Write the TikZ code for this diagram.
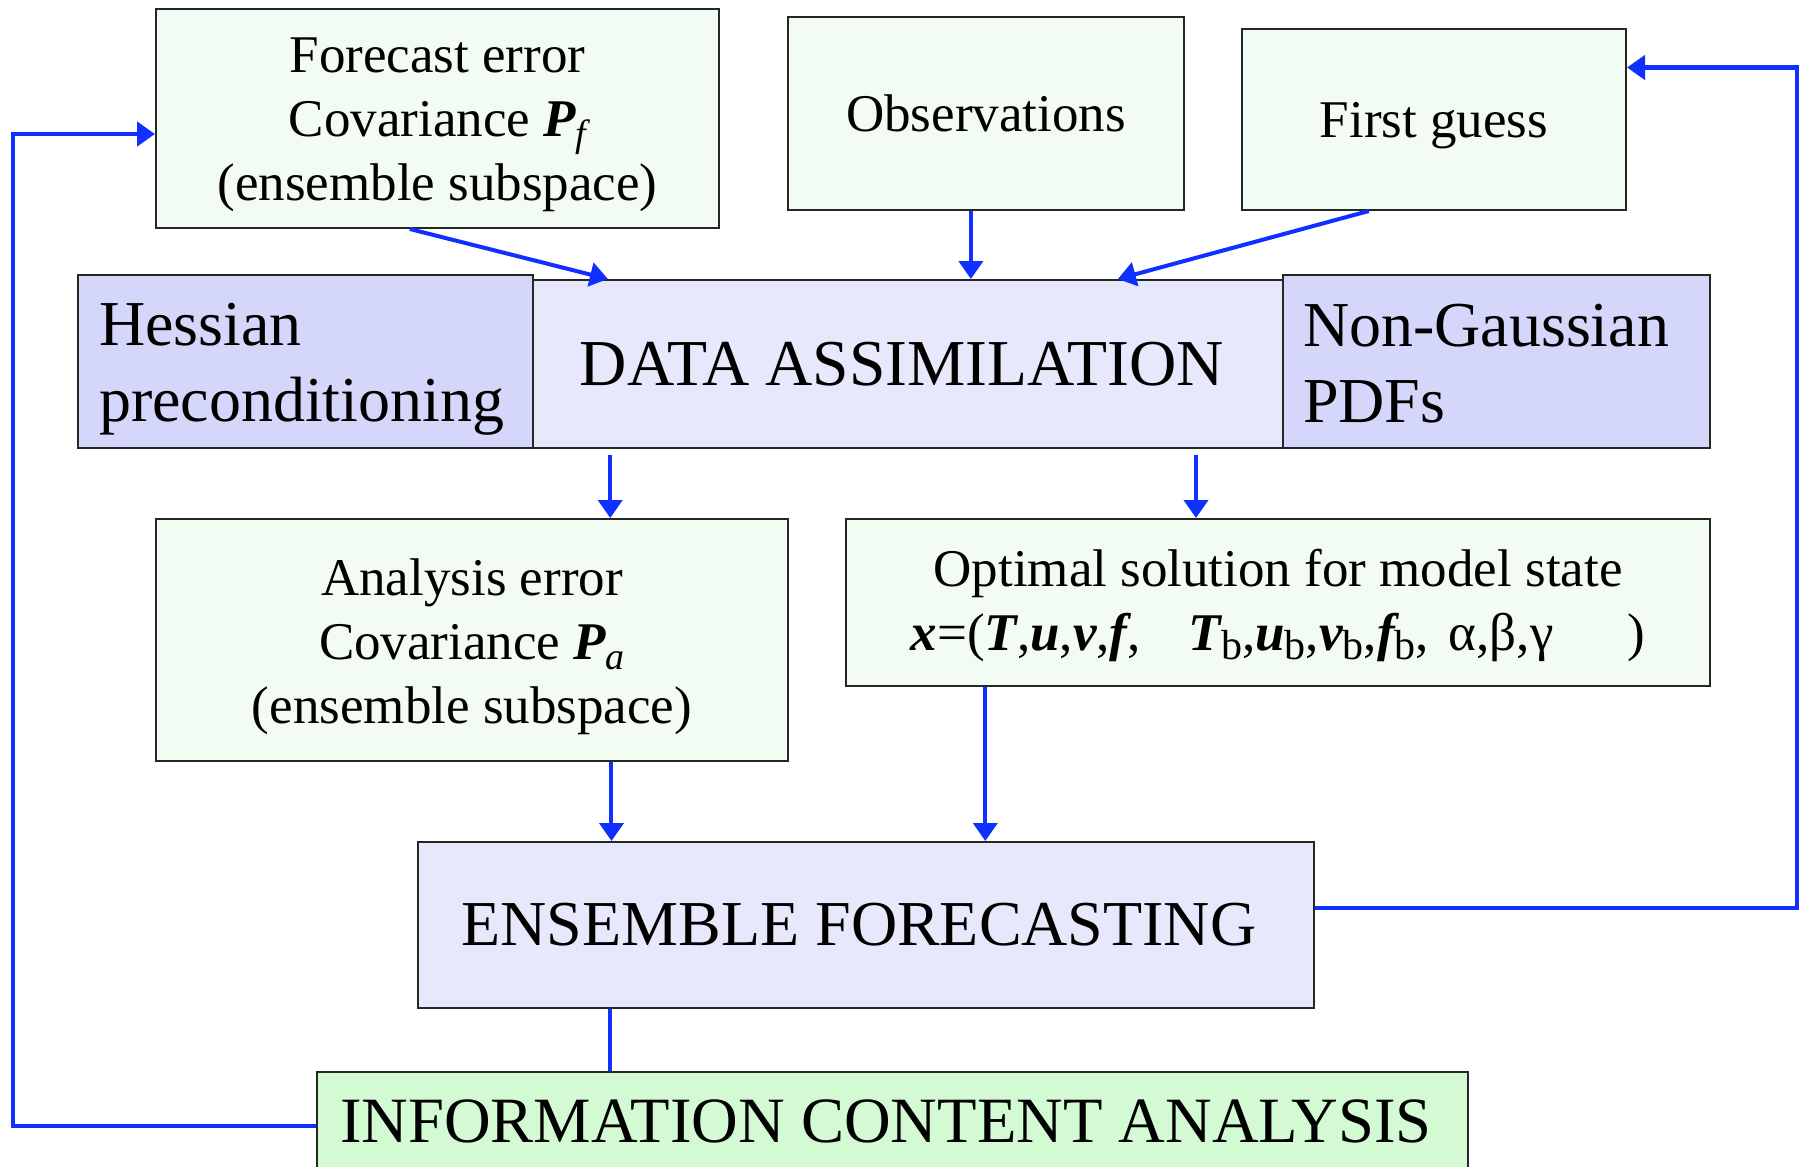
\documentclass[tikz,border=0pt]{standalone}
\usepackage{fontspec}
\setmainfont{Liberation Serif}
\usetikzlibrary{arrows.meta,calc}
\definecolor{gbox}{HTML}{F2FCF2}
\definecolor{pbox}{HTML}{E8E8FC}
\definecolor{dbox}{HTML}{D5D7FA}
\definecolor{ibox}{HTML}{D3FAD3}
\definecolor{linkblue}{HTML}{1030FF}
\newcommand\bivar[1]{{\bfseries\itshape #1}}
\newcommand\subb{\raisebox{-9pt}{\fontsize{42}{42}\selectfont b}}
\newcommand\subf{\raisebox{-10pt}{\fontsize{38}{38}\selectfont\itshape f}}
\newcommand\suba{\raisebox{-10pt}{\fontsize{38}{38}\selectfont\itshape a}}
\begin{document}
\begin{tikzpicture}[x=1pt,y=-1pt,
  box/.style={draw=black!85,line width=2pt,inner sep=0pt,anchor=center},
  small/.style={font=\fontsize{53}{64}\selectfont,align=center,inner sep=0pt},
  big/.style={font=\fontsize{64}{76}\selectfont,inner sep=0pt},
  link/.style={draw=linkblue,line width=4pt},
  arr/.style={link,-{Triangle[length=18pt,width=24pt]}}]
\useasboundingbox (0,0) rectangle (1802,1167);
\clip (0,0) rectangle (1802,1167);

% boxes
\node[box,fill=gbox,minimum width=563,minimum height=219] (fc) at (437.5,118.5) {};
\node[box,fill=gbox,minimum width=396,minimum height=193] (obs) at (986,113.5) {};
\node[box,fill=gbox,minimum width=384,minimum height=181] (fg) at (1434,119.5) {};
\node[box,fill=pbox,minimum width=750,minimum height=168] (da) at (908,364) {};
\node[box,fill=dbox,minimum width=455,minimum height=173] (hes) at (305.5,361.5) {};
\node[box,fill=dbox,minimum width=427,minimum height=173] (ng) at (1496.5,361.5) {};
\node[box,fill=gbox,minimum width=632,minimum height=242] (an) at (472,640) {};
\node[box,fill=gbox,minimum width=864,minimum height=167] (opt) at (1278,602.5) {};
\node[box,fill=pbox,minimum width=896,minimum height=166] (ef) at (866,925) {};
\node[box,fill=ibox,minimum width=1151,minimum height=120] (info) at (892.5,1132) {};

% texts
\node[small] (fc-t) at ($(fc.center)+(0,6)$)
  {Forecast error\\Covariance \bivar{P}\subf\\(ensemble subspace)};
\node[small] (obs-t) at (obs.center) {Observations};
\node[small] (fg-t) at ($(fg.center)+(0,6)$) {First guess};
\node[inner sep=0pt,font=\fontsize{65.5}{76}\selectfont] (da-t) at ($(da.center)+(-6,0)$) {DATA ASSIMILATION};
\node[big,text width=413,align=left] (hes-t) at ($(hes.center)+(0,8)$) {Hessian\\preconditioning};
\node[big,text width=387,align=left] (ng-t) at ($(ng.center)+(0,2)$) {Non-Gaussian\\PDFs};
\node[small] (an-t) at ($(an.center)+(0,7)$)
  {Analysis error\\Covariance \bivar{P}\suba\\(ensemble subspace)};
\node[small] (opt-t) at ($(opt.center)+(0,3)$)
  {Optimal solution for model state\\
   \bivar{x}=(\bivar{T},\bivar{u},\bivar{v},\bivar{f},\hspace{48pt}\bivar{T}\subb,\bivar{u}\subb,\bivar{v}\subb,\bivar{f}\subb,\hspace{20pt}α,β,γ\hspace{74pt})};
\node[big] (ef-t) at ($(ef.center)+(-7,0)$) {ENSEMBLE FORECASTING};
\node[inner sep=0pt,font=\fontsize{64.6}{76}\selectfont] (info-t) at (886,1121) {INFORMATION CONTENT ANALYSIS};

% connectors
\draw[arr] ($(fc.south west)!0.451!(fc.south east)$) -- ($(da.north west)!0.101!(da.north east)$);
\draw[arr] ($(obs.south west)!0.462!(obs.south east)$) coordinate (o1) -- (o1 |- da.north);
\draw[arr] ($(fg.south west)!0.331!(fg.south east)$) -- ($(da.north west)!0.779!(da.north east)$);

\draw[arr] ($(da.south west)!0.104!(da.south east)+(0,6)$) coordinate (d1) -- (d1 |- an.north);
\draw[arr] ($(da.south west)!0.883!(da.south east)+(0,6)$) coordinate (d2) -- (d2 |- opt.north);

\draw[arr] ($(an.south west)!0.72!(an.south east)$) coordinate (a1) -- (a1 |- ef.north);
\draw[arr] ($(opt.south west)!0.162!(opt.south east)$) coordinate (p1) -- (p1 |- ef.north);
\draw[link,line width=3.5pt] ($(ef.south west)!0.215!(ef.south east)$) coordinate (e1) -- (e1 |- info.north);

\draw[arr,line width=4.5pt] (info.west |- 0,1126) -- ++(-303,0) |- ($(fc.west)+(0,15.5)$);
\draw[arr,line width=4.5pt] ($(ef.east)+(0,-17)$) -- ++(482,0) |- ($(fg.east)+(0,-52)$);
\end{tikzpicture}
\end{document}
